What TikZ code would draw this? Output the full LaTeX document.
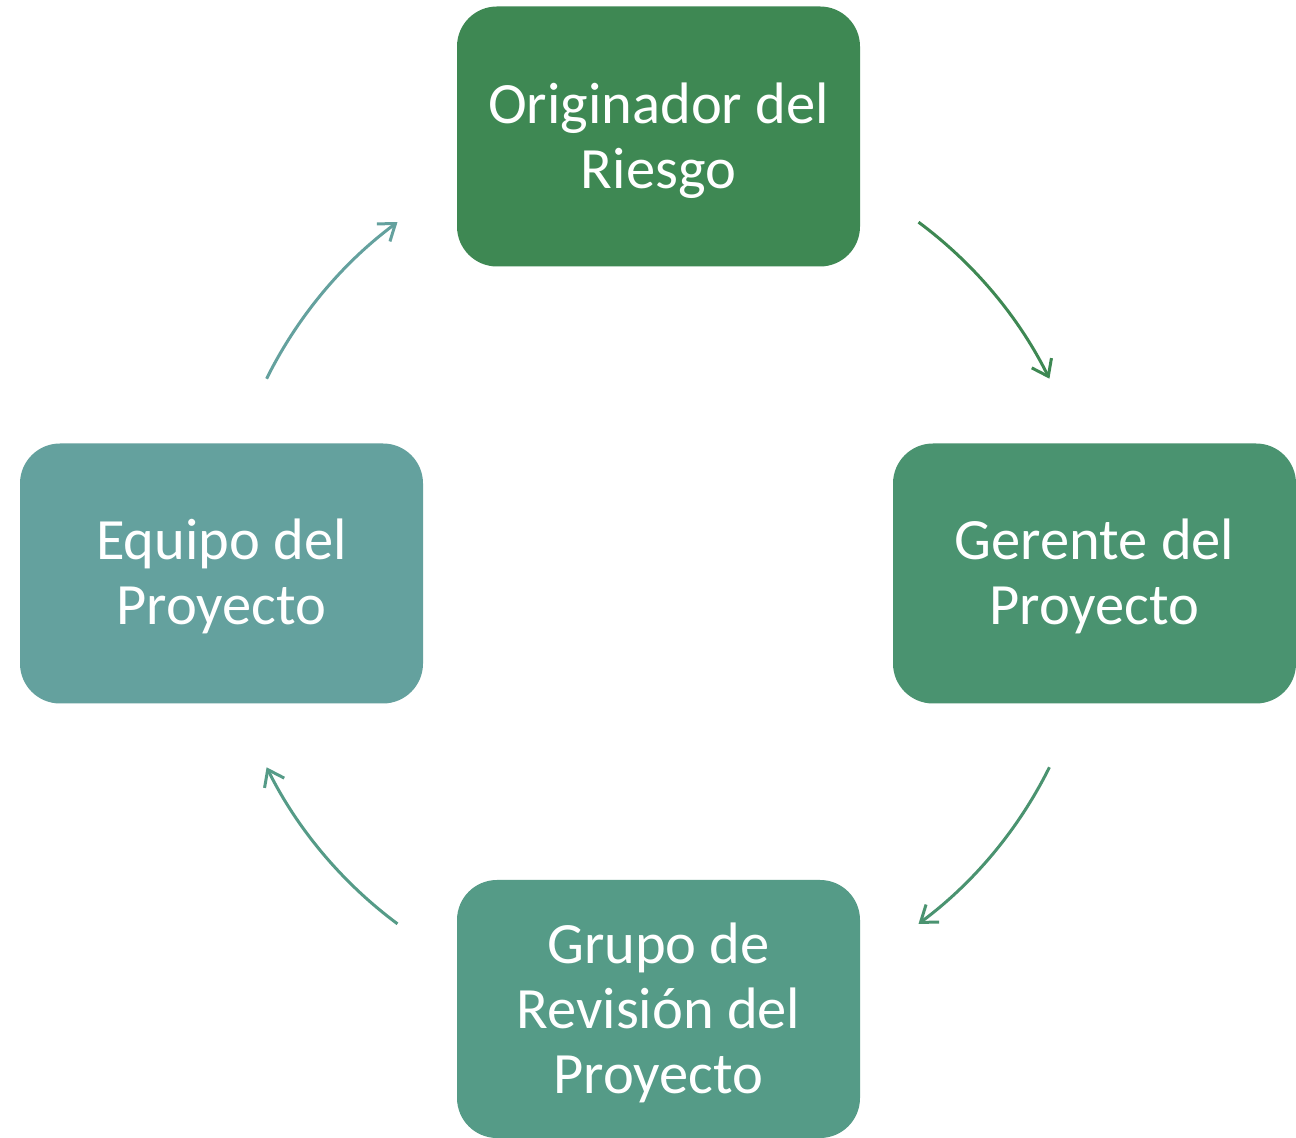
\documentclass[tikz,border=0pt]{standalone}
\usepackage{fontspec}
\setmainfont{Carlito}
\usetikzlibrary{arrows.meta}
\definecolor{cTop}{HTML}{3E8853}
\definecolor{cRight}{HTML}{4A9370}
\definecolor{cBottom}{HTML}{559B87}
\definecolor{cLeft}{HTML}{64A19E}
\tikzset{
  stagebox/.style={rounded corners=40pt, minimum width=403pt, minimum height=260pt,
    inner sep=0pt},
  stagetext/.style={inner sep=0pt, align=center, text=white,
    font=\fontsize{58.5}{65}\selectfont},
  cyclearrow/.style={line width=3pt, -{Straight Barb[length=15pt,width=22pt,line width=3pt]}}
}
\begin{document}
\begin{tikzpicture}[x=1pt,y=1pt]
\useasboundingbox (0,0) rectangle (1296,1138);
\fill[white] (0,0) rectangle (1296,1138);
\node[stagebox, fill=cTop] (top) at (658.5,1001.5) {};
\node[stagebox, fill=cRight] (right) at (1094.5,564.5) {};
\node[stagebox, fill=cBottom, minimum height=258pt] (bottom) at (658.5,129) {};
\node[stagebox, fill=cLeft] (left) at (221.5,564.5) {};
\node[stagetext] (topt) at ([yshift=-4pt]top.center) {Originador del\\Riesgo};
\node[stagetext] (rightt) at ([yshift=-3pt]right.center) {Gerente del\\Proyecto};
\node[stagetext] (bottomt) at ([yshift=-4pt]bottom.center) {Grupo de\\Revisión del\\Proyecto};
\node[stagetext] (leftt) at ([yshift=-3pt]left.center) {Equipo del\\Proyecto};
\coordinate (ctr) at (658,565);
\path (ctr) ++(53.4:437pt) coordinate (a1s);
\path (ctr) ++(-26.4:437pt) coordinate (a2s);
\path (ctr) ++(-126.6:437pt) coordinate (a3s);
\path (ctr) ++(153.6:437pt) coordinate (a4s);
\draw[cyclearrow, draw=cTop] (a1s) arc[start angle=53.4, end angle=26.4, radius=437pt];
\draw[cyclearrow, draw=cRight] (a2s) arc[start angle=-26.4, end angle=-53.4, radius=437pt];
\draw[cyclearrow, draw=cBottom] (a3s) arc[start angle=-126.6, end angle=-153.6, radius=437pt];
\draw[cyclearrow, draw=cLeft] (a4s) arc[start angle=153.6, end angle=126.6, radius=437pt];
\end{tikzpicture}
\end{document}
